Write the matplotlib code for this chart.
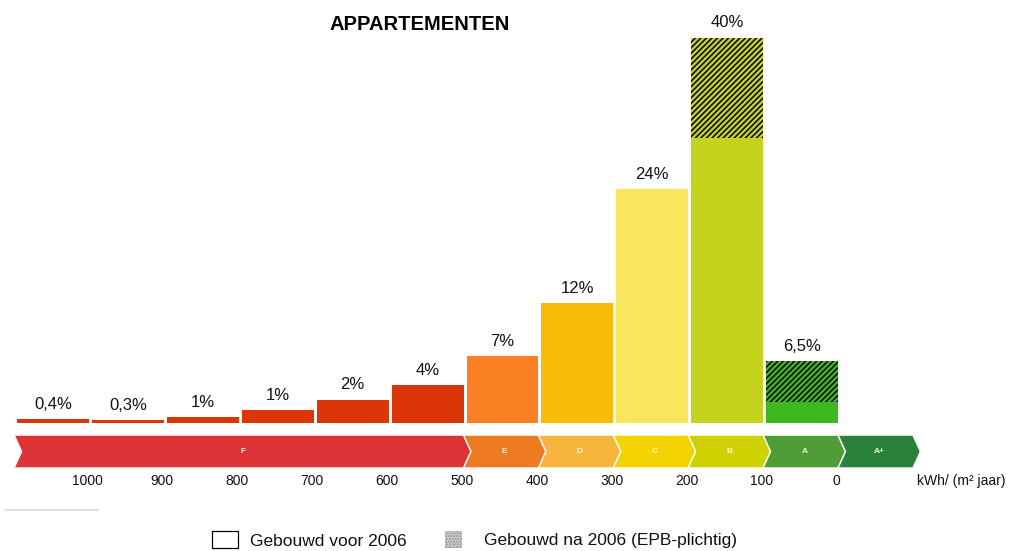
import matplotlib
matplotlib.use("Agg")
import matplotlib.pyplot as plt
from matplotlib.patches import Polygon, Rectangle
from matplotlib.lines import Line2D

plt.rcParams['font.family'] = ['Liberation Sans', 'DejaVu Sans']
plt.rcParams['hatch.linewidth'] = 1.1

# ---- data ----
bar_lo = [1000, 900, 800, 700, 600, 500, 400, 300, 200, 100, 0]   # kWh/(m2 jaar) class edges
before_2006 = [0.42, 0.31, 0.62, 1.35, 2.4, 3.95, 6.96, 12.46, 24.3, 29.6, 2.18]
after_2006 = [0, 0, 0, 0, 0, 0, 0, 0, 0, 10.4, 4.25]
labels = ['0,4%', '0,3%', '1%', '1%', '2%', '4%', '7%', '12%', '24%', '40%', '6,5%']
bar_colors = ['#dc3507'] * 6 + ['#fb7f23', '#f9bc06', '#f9e65c', '#c5d31d', '#3db81e']

classes = ['F', 'E', 'D', 'C', 'B', 'A', 'A+']
class_hi = [1100, 500, 400, 300, 200, 100, 0]
class_lo = [500, 400, 300, 200, 100, 0, -100]
class_colors = ['#de3337', '#ee7a22', '#f8b53d', '#f3d400', '#cfd100', '#4f9d36', '#2a823a']

ticks = [1000, 900, 800, 700, 600, 500, 400, 300, 200, 100, 0]
unit_label = 'kWh/ (m² jaar)'
title = 'APPARTEMENTEN'
legend_labels = ['Gebouwd voor 2006', 'Gebouwd na 2006 (EPB-plichtig)']

# ---- figure ----
W, H = 1013, 551
fig = plt.figure(figsize=(W / 100, H / 100), dpi=100)
ax = fig.add_axes([0, 0, 1, 1])
ax.set_xlim(1118.8, -233.6)
ax.set_ylim(-13.29, 43.93)
ax.axis('off')

bar_w = 96
ax.bar(bar_lo, before_2006, width=bar_w, align='edge', color=bar_colors, linewidth=0)
ax.bar(bar_lo, after_2006, width=bar_w, align='edge', bottom=before_2006,
       color=[c if a > 0 else 'none' for c, a in zip(bar_colors, after_2006)],
       edgecolor='black', linewidth=0, hatch='//////')

for lo, b, a, lab in zip(bar_lo, before_2006, after_2006, labels):
    ax.annotate(lab, (lo + bar_w / 2, b + a), xytext=(0, 7.5), textcoords='offset points',
                ha='center', va='baseline', fontsize=12, color='#111111')

# energy class arrow band
top, bot = -1.25, -4.67
mid = (top + bot) / 2
d = 10
for name, hi, lo, col in zip(classes, class_hi, class_lo, class_colors):
    pts = [(hi, top), (lo, top), (lo - d, mid), (lo, bot), (hi, bot), (hi - d, mid)]
    ax.add_patch(Polygon(pts, closed=True, facecolor=col, edgecolor='white', linewidth=1))
    ax.text((hi + lo) / 2 - d / 2, mid, name, ha='center', va='center',
            fontsize=6, fontweight='bold', color='white', alpha=0.9)

for t in ticks:
    ax.text(t + 2, -5.98, str(t), ha='center', va='center', fontsize=10, color='#111111')
ax.text(-106, -5.98, unit_label, ha='left', va='center', fontsize=10, color='#111111')

fig.text(420 / W, 1 - 24 / H, title, ha='center', va='center', fontsize=14.5,
         fontweight='bold', color='black')

# faint separator line
fig.add_artist(Line2D([5 / W, 98 / W], [1 - 510 / H, 1 - 510 / H], color='#e2e2e2', lw=1.5))

# legend
fig.add_artist(Rectangle((212 / W, 1 - 548 / H), 26 / W, 17 / H, transform=fig.transFigure,
                         facecolor='white', edgecolor='black', linewidth=0.9))
fig.add_artist(Rectangle((445 / W, 1 - 548 / H), 17 / W, 17 / H, transform=fig.transFigure,
                         facecolor='#d6d6d6', edgecolor='#8a8a8a', linewidth=0, hatch='......'))
fig.text(250 / W, 1 - 541 / H, legend_labels[0], ha='left', va='center', fontsize=12.5, color='#111111')
fig.text(484 / W, 1 - 541 / H, legend_labels[1], ha='left', va='center', fontsize=12.5, color='#111111')

fig.savefig('out.png', dpi=100)
